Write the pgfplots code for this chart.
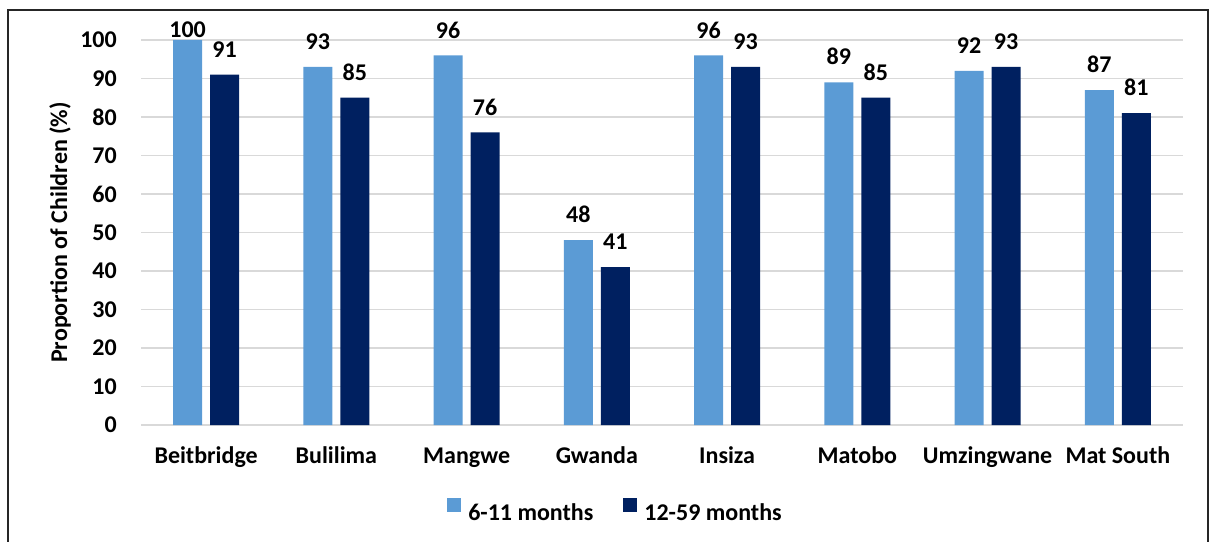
\documentclass[border=0pt]{standalone}
\usepackage{fontspec}
\setmainfont{Carlito}
\usepackage{pgfplots}
\pgfplotsset{compat=1.18}
\definecolor{lightbar}{HTML}{5B9BD5}
\definecolor{darkbar}{HTML}{002060}
\definecolor{gridgray}{HTML}{D9D9D9}
\newcommand{\chartfont}{\fontsize{24}{28}\selectfont\bfseries}

\begin{document}
\begin{tikzpicture}
\useasboundingbox (0,0) rectangle (1214pt,541pt);
\draw[line width=1.5pt, black!85] (8pt,-30pt) rectangle (1208pt,531pt);
\begin{axis}[
  at={(141pt,116pt)}, anchor=south west,
  scale only axis, width=1042pt, height=385pt,
  ybar, bar width=29pt,
  xmin=-0.5, xmax=7.5, ymin=0, ymax=100,
  xtick={0,...,7},
  xticklabels={Beitbridge,Bulilima,Mangwe,Gwanda,Insiza,Matobo,Umzingwane,Mat South},
  ytick={0,10,...,100},
  axis line style={draw=none},
  major tick length=0pt,
  ymajorgrids, grid style={gridgray, line width=1.3pt},
  /pgf/number format/assume math mode=true,
  every tick label/.append style={font=\chartfont},
  xticklabel style={anchor=base, yshift=-38pt},
  yticklabel style={anchor=east, inner sep=0pt, xshift=-24pt},
  ylabel={Proportion of Children (\%)},
  ylabel style={font=\chartfont, at={(axis description cs:-0.0777,0.5)}, anchor=center},
  nodes near coords,
  nodes near coords style={font=\chartfont, anchor=south, inner sep=0pt, yshift=17pt},
  legend columns=2,
  legend image code/.code={\fill[#1] (0pt,0pt) rectangle (14pt,14pt);},
  legend style={at={(axis description cs:0.4544,-0.2208)}, anchor=center,
    draw=none, fill=none, font=\chartfont, inner sep=0pt,
    nodes={inner sep=0pt}, column sep=7pt,
    /tikz/every even column/.append style={column sep=30pt}},
]
\addplot[fill=lightbar, draw=none, bar shift=-18.5pt,
  coordinate style/.condition={y>99}{yshift=-15pt}] coordinates {
  (0,100) (1,93) (2,96) (3,48) (4,96) (5,89) (6,92) (7,87)};
\addplot[fill=darkbar, draw=none, bar shift=18.5pt] coordinates {
  (0,91) (1,85) (2,76) (3,41) (4,93) (5,85) (6,93) (7,81)};
\legend{6-11 months, 12-59 months}
\end{axis}
\end{tikzpicture}
\end{document}
